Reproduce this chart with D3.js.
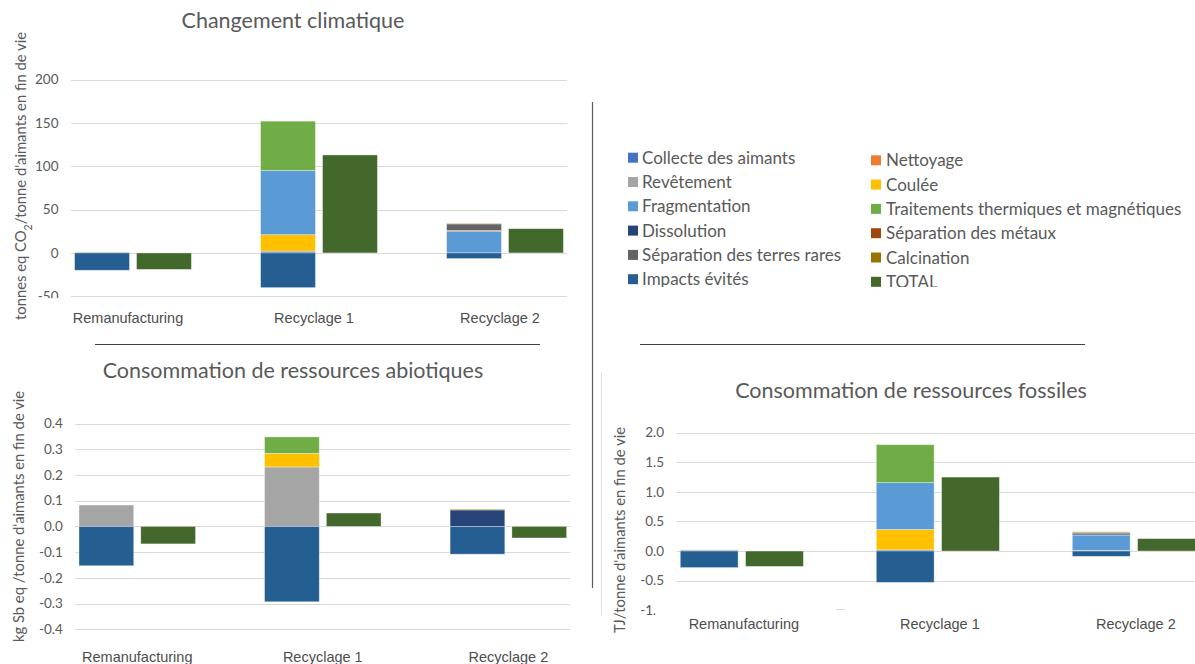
<!DOCTYPE html>
<html>
<head>
<meta charset="utf-8">
<script src="https://cdn.jsdelivr.net/npm/d3@7"></script>
<style>
  body { margin: 0; background: #fff; }
  svg { display: block; }
</style>
</head>
<body>
<svg id="fig" width="1195" height="664"></svg>
<script>
// ---- Data ---------------------------------------------------------------
const categories = ["Remanufacturing", "Recyclage 1", "Recyclage 2"];

// Stacked contributions, in this series order (TOTAL is drawn as its own bar)
const seriesNames = [
  "Collecte des aimants", "Nettoyage",
  "Revêtement", "Coulée",
  "Fragmentation", "Traitements thermiques et magnétiques",
  "Dissolution", "Séparation des métaux",
  "Séparation des terres rares", "Calcination",
  "Impacts évités", "TOTAL"
];
const seriesColors = [
  "#4472C4", "#ED7D31",
  "#A5A5A5", "#FFC000",
  "#5B9BD5", "#70AD47",
  "#264478", "#9E480E",
  "#636363", "#997300",
  "#255E91", "#43682B"
];

// Changement climatique (t CO2 eq / t d'aimants en fin de vie)
const climatRemanufacturing = [0, 0, 1, 0, 0, 0, 0, 0, 0, 0, -20];
const climatRecyclage1      = [2, 0, 0, 19, 74, 57, 0, 0, 0, 0, -40];
const climatRecyclage2      = [0, 0, 0, 0, 25, 0, 0, 1, 7.5, 0.5, -6.5];
const climatTotal           = [-19, 113, 28];
const climatTicks           = [-50, 0, 50, 100, 150, 200];

// Consommation de ressources abiotiques (kg Sb eq / t d'aimants en fin de vie)
const abiotiqueRemanufacturing = [0, 0, 0.083, 0, 0, 0, 0, 0, 0, 0, -0.153];
const abiotiqueRecyclage1      = [0, 0, 0.231, 0.053, 0, 0.064, 0, 0, 0, 0, -0.293];
const abiotiqueRecyclage2      = [0, 0, 0, 0, 0, 0, 0.064, 0, 0, 0.003, -0.108];
const abiotiqueTotal           = [-0.068, 0.052, -0.045];
const abiotiqueTicks           = [-0.4, -0.3, -0.2, -0.1, 0, 0.1, 0.2, 0.3, 0.4];

// Consommation de ressources fossiles (TJ / t d'aimants en fin de vie)
const fossileRemanufacturing = [0, 0, 0.02, 0, 0, 0, 0, 0, 0, 0, -0.28];
const fossileRecyclage1      = [0.02, 0, 0, 0.344, 0.792, 0.642, 0, 0, 0, 0, -0.53];
const fossileRecyclage2      = [0.01, 0, 0, 0, 0.26, 0, 0.02, 0, 0.02, 0.015, -0.09];
const fossileTotal           = [-0.26, 1.25, 0.21];
const fossileTicks           = [-1.0, -0.5, 0, 0.5, 1.0, 1.5, 2.0];

// ---- Drawing ------------------------------------------------------------
const svg = d3.select("#fig");
const defs = svg.append("defs");
const TEXT = "#595959";
const SANS = "Lato, 'Open Sans', sans-serif";
const ARIAL = "'Liberation Sans', Arial, sans-serif";

function drawChart(cfg) {
  const g = svg.append("g");
  const x = d3.scalePoint().domain(categories).range(cfg.xRange).padding(1 / 3);
  const y = d3.scaleLinear().domain(d3.extent(cfg.ticks)).range(cfg.yRange);
  const step = x.step();
  const bw = step * 0.295, gap = step * 0.038;

  // gridlines
  g.append("g").selectAll("line")
    .data(cfg.ticks.filter(t => !(cfg.hiddenGrid || []).includes(t)))
    .join("line")
    .attr("x1", cfg.xRange[0]).attr("x2", cfg.xRange[1])
    .attr("y1", d => Math.round(y(d)) + 0.5).attr("y2", d => Math.round(y(d)) + 0.5)
    .attr("stroke", "#d9d9d9").attr("stroke-width", 1.2);

  // tick labels (the ones listed in clipTicks are cut by a clip rectangle)
  const clipId = "clip" + cfg.key;
  defs.append("clipPath").attr("id", clipId).append("rect")
    .attr("x", cfg.tickClip[0]).attr("y", cfg.tickClip[1])
    .attr("width", cfg.tickClip[2]).attr("height", cfg.tickClip[3]);
  g.append("g")
    .selectAll("text").data(cfg.ticks).join("text")
    .attr("clip-path", d => (cfg.clipTicks || []).includes(d) ? `url(#${clipId})` : null)
    .attr("x", cfg.xRange[0] - 12.5).attr("y", d => y(d)).attr("dy", "0.35em")
    .attr("text-anchor", "end").attr("font-family", SANS).attr("font-size", 13.5)
    .attr("fill", TEXT).text(d => d3.format(cfg.fmt)(d).replace("−", "-"));

  // stacked bars
  cfg.stacks.forEach((vals, ci) => {
    const cx = x(categories[ci]);
    let pos = 0, neg = 0;
    vals.forEach((v, si) => {
      if (!v) return;
      let y0, y1;
      if (v > 0) { y0 = pos; y1 = pos + v; pos = y1; }
      else { y0 = neg; y1 = neg + v; neg = y1; }
      g.append("rect")
        .attr("x", cx - gap / 2 - bw).attr("width", bw)
        .attr("y", Math.min(y(y0), y(y1)))
        .attr("height", Math.abs(y(y1) - y(y0)))
        .attr("fill", seriesColors[si])
        .attr("stroke", "rgba(255,255,255,0.45)").attr("stroke-width", 0.8);
    });
  });

  // TOTAL bars
  g.append("g").selectAll("rect").data(cfg.totals).join("rect")
    .attr("x", (d, i) => x(categories[i]) + gap / 2).attr("width", bw)
    .attr("y", d => Math.min(y(0), y(d)))
    .attr("height", d => Math.abs(y(d) - y(0)))
    .attr("fill", seriesColors[11])
    .attr("stroke", "rgba(255,255,255,0.45)").attr("stroke-width", 0.8);

  // category labels
  g.append("g").selectAll("text").data(categories).join("text")
    .attr("x", d => x(d) + (cfg.catDx || 0)).attr("y", cfg.catY)
    .attr("text-anchor", "middle").attr("font-family", ARIAL).attr("font-size", 14.5)
    .attr("fill", "#4d4d4d").text(d => d);

  // title
  g.append("text").attr("x", cfg.titlePos[0]).attr("y", cfg.titlePos[1])
    .attr("text-anchor", "middle").attr("font-family", SANS).attr("font-size", 21.5)
    .attr("fill", TEXT).text(cfg.title);

  // y axis title
  const yt = g.append("text")
    .attr("transform", `translate(${cfg.yTitlePos[0]},${cfg.yTitlePos[1]}) rotate(-90)`)
    .attr("text-anchor", "middle").attr("font-family", SANS).attr("font-size", 14.8)
    .attr("fill", TEXT);
  cfg.yTitle.forEach(part => {
    const t = yt.append("tspan").text(part.t);
    if (part.sub) t.attr("baseline-shift", "sub").attr("font-size", 10.5);
  });
  return { x, y };
}

drawChart({
  key: "climat",
  title: "Changement climatique",
  titlePos: [293, 27.5],
  yTitle: [{ t: "tonnes eq CO" }, { t: "2", sub: true }, { t: "/tonne d'aimants en fin de vie" }],
  yTitlePos: [26, 176],
  xRange: [71, 567],
  yRange: [296.3, 79.5],
  ticks: climatTicks, fmt: "d",
  clipTicks: [-50],
  tickClip: [0, 60, 70, 238],
  stacks: [climatRemanufacturing, climatRecyclage1, climatRecyclage2],
  totals: climatTotal,
  catY: 323, catDx: -5
});

drawChart({
  key: "abiotique",
  title: "Consommation de ressources abiotiques",
  titlePos: [293, 378],
  yTitle: [{ t: "kg Sb eq /tonne d'aimants en fin de vie" }],
  yTitlePos: [24, 516.5],
  xRange: [75.4, 570.2],
  yRange: [629.3, 423.5],
  ticks: abiotiqueTicks, fmt: ".1f",
  tickClip: [0, 400, 75, 264],
  stacks: [abiotiqueRemanufacturing, abiotiqueRecyclage1, abiotiqueRecyclage2],
  totals: abiotiqueTotal,
  catY: 662
});

const fossil = drawChart({
  key: "fossile",
  title: "Consommation de ressources fossiles",
  titlePos: [911, 398],
  yTitle: [{ t: "TJ/tonne d'aimants en fin de vie" }],
  yTitlePos: [625, 530],
  xRange: [676.5, 1199.2],
  yRange: [610.2, 432.7],
  ticks: fossileTicks, fmt: ".1f",
  hiddenGrid: [-1.0],
  clipTicks: [-1.0],
  tickClip: [600, 400, 55.5, 264],
  stacks: [fossileRemanufacturing, fossileRecyclage1, fossileRecyclage2],
  totals: fossileTotal,
  catY: 628.5, catDx: 2
});
// short visible remnant of the -1.0 gridline
svg.append("line").attr("x1", 836).attr("x2", 845)
  .attr("y1", Math.round(fossil.y(-1)) - 0.5).attr("y2", Math.round(fossil.y(-1)) - 0.5)
  .attr("stroke", "#d9d9d9").attr("stroke-width", 1);

// ---- Separators ---------------------------------------------------------
svg.append("line").attr("x1", 592.5).attr("x2", 592.5).attr("y1", 102).attr("y2", 588)
  .attr("stroke", "#5a5a5a").attr("stroke-width", 1.2);
svg.append("line").attr("x1", 601.5).attr("x2", 601.5).attr("y1", 372).attr("y2", 615)
  .attr("stroke", "#e3e3e3").attr("stroke-width", 1.2);
svg.append("line").attr("x1", 95).attr("x2", 540).attr("y1", 344.5).attr("y2", 344.5)
  .attr("stroke", "#404040").attr("stroke-width", 1);
svg.append("line").attr("x1", 640).attr("x2", 1085).attr("y1", 344.5).attr("y2", 344.5)
  .attr("stroke", "#404040").attr("stroke-width", 1);

// ---- Legend -------------------------------------------------------------
defs.append("clipPath").attr("id", "legendClip").append("rect")
  .attr("x", 600).attr("y", 140).attr("width", 595).attr("height", 147);
const legend = svg.append("g").attr("clip-path", "url(#legendClip)");
const legendCols = [{ sx: 628, tx: 642, y0: 157.7 }, { sx: 871, tx: 886, y0: 160.3 }];
const rowStep = 24.3;
seriesNames.forEach((name, i) => {
  const col = legendCols[i % 2], row = Math.floor(i / 2);
  const cy = col.y0 + row * rowStep;
  legend.append("rect").attr("x", col.sx).attr("y", cy - 5).attr("width", 10).attr("height", 10)
    .attr("fill", seriesColors[i]);
  legend.append("text").attr("x", col.tx).attr("y", cy).attr("dy", "0.36em")
    .attr("font-family", SANS).attr("font-size", 17).attr("fill", TEXT).text(name);
});
</script>
</body>
</html>
